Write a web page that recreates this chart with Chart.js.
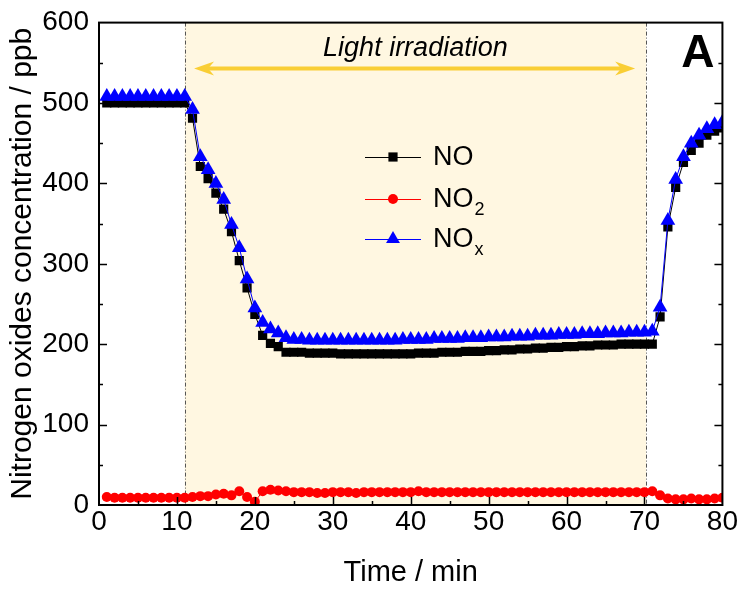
<!DOCTYPE html>
<html>
<head>
<meta charset="utf-8">
<title>NOx removal</title>
<script src="https://cdn.jsdelivr.net/npm/chart.js@4.4.1/dist/chart.umd.min.js"></script>
<style>
  html, body { margin: 0; padding: 0; background: #fff; }
  #wrap { width: 743px; height: 590px; }
</style>
</head>
<body>
<div id="wrap"><canvas id="chart" width="743" height="590"></canvas></div>
<script>
// time axis, one reading per minute
const times = [
  1, 2, 3, 4, 5, 6, 7, 8, 9, 10, 11, 12, 13, 14, 15, 16, 17, 18, 19, 20,
  21, 22, 23, 24, 25, 26, 27, 28, 29, 30, 31, 32, 33, 34, 35, 36, 37, 38, 39, 40,
  41, 42, 43, 44, 45, 46, 47, 48, 49, 50, 51, 52, 53, 54, 55, 56, 57, 58, 59, 60,
  61, 62, 63, 64, 65, 66, 67, 68, 69, 70, 71, 72, 73, 74, 75, 76, 77, 78, 79, 80
];

const noValues = [
  500, 500, 500, 500, 500, 500, 500, 500, 500, 500, 500, 481, 421, 406, 388, 368, 340, 304, 270, 237,
  211, 201, 197, 190, 190, 190, 189, 189, 189, 189, 188, 188, 188, 188, 188, 188, 188, 188, 188, 188,
  189, 189, 189, 190, 190, 190, 191, 191, 191, 192, 192, 193, 193, 194, 194, 195, 195, 196, 196, 197,
  197, 198, 198, 199, 199, 199, 200, 200, 200, 200, 200, 234, 346, 395, 426, 441, 450, 460, 465, 469
];

const no2Values = [
  10, 9, 9, 9, 9, 9, 9, 9, 9, 9, 9, 10, 11, 11, 13, 14, 12, 17, 10, 4,
  17, 19, 18, 17, 16, 16, 16, 15, 15, 16, 16, 16, 15, 16, 16, 16, 16, 16, 16, 16,
  17, 16, 16, 16, 16, 16, 16, 16, 16, 16, 16, 16, 16, 16, 16, 16, 16, 16, 16, 16,
  16, 16, 16, 16, 16, 16, 16, 16, 16, 16, 17, 12, 8, 7, 7, 8, 7, 7, 8, 9
];

const noxValues = [
  508, 508, 508, 508, 508, 508, 508, 508, 508, 508, 508, 492, 433, 417, 400, 380, 349, 320, 281, 245,
  227, 219, 214, 208, 206, 206, 205, 205, 205, 205, 205, 205, 205, 205, 205, 205, 205, 205, 206, 206,
  206, 206, 207, 207, 207, 207, 208, 208, 208, 209, 209, 209, 210, 210, 210, 211, 211, 211, 212, 212,
  212, 213, 213, 213, 214, 214, 214, 215, 215, 215, 216, 246, 354, 405, 433, 450, 460, 468, 473, 476
];

// light on / off (min)
const lightStart = 11;
const lightEnd = 70.2;

const FONT = '"Liberation Sans", Arial, sans-serif';

function pts(ys) {
  return times.map((t, i) => ({ x: t, y: ys[i] }));
}

// little marker drawer used for the hand-made legend
function marker(ctx, style, x, y, r, color) {
  ctx.save();
  ctx.fillStyle = color;
  ctx.beginPath();
  if (style === 'rect') {
    const s = r * Math.SQRT1_2;
    ctx.rect(x - s, y - s, 2 * s, 2 * s);
  } else if (style === 'triangle') {
    ctx.moveTo(x, y - r);
    ctx.lineTo(x + r * 0.866, y + r * 0.5);
    ctx.lineTo(x - r * 0.866, y + r * 0.5);
    ctx.closePath();
  } else {
    ctx.arc(x, y, r, 0, Math.PI * 2);
  }
  ctx.fill();
  ctx.restore();
}

const decor = {
  id: 'decor',
  beforeDatasetsDraw(chart) {
    const { ctx, chartArea: a, scales: { x, y } } = chart;
    const x0 = x.getPixelForValue(lightStart);
    const x1 = x.getPixelForValue(lightEnd);
    ctx.save();
    ctx.fillStyle = '#FFF7E1';
    ctx.fillRect(x0, a.top, x1 - x0, a.bottom - a.top);

    // dash-dot boundaries
    ctx.strokeStyle = '#555';
    ctx.lineWidth = 1;
    ctx.setLineDash([4, 2, 1, 2]);
    [x0, x1].forEach(px => {
      ctx.beginPath();
      ctx.moveTo(Math.round(px) + 0.5, a.top);
      ctx.lineTo(Math.round(px) + 0.5, a.bottom);
      ctx.stroke();
    });
    ctx.setLineDash([]);

    // double arrow
    const ay = y.getPixelForValue(543);
    const ax0 = x.getPixelForValue(12.2);
    const ax1 = x.getPixelForValue(68.8);
    ctx.strokeStyle = '#F9CE35';
    ctx.fillStyle = '#F9CE35';
    ctx.lineWidth = 4;
    ctx.beginPath();
    ctx.moveTo(ax0 + 10, ay);
    ctx.lineTo(ax1 - 10, ay);
    ctx.stroke();
    [[ax0, 1], [ax1, -1]].forEach(([px, d]) => {
      ctx.beginPath();
      ctx.moveTo(px, ay);
      ctx.lineTo(px + d * 20, ay - 7);
      ctx.lineTo(px + d * 14, ay);
      ctx.lineTo(px + d * 20, ay + 7);
      ctx.closePath();
      ctx.fill();
    });

    ctx.fillStyle = '#000';
    ctx.font = 'italic 27px ' + FONT;
    ctx.textAlign = 'center';
    ctx.textBaseline = 'alphabetic';
    ctx.fillText('Light irradiation', x.getPixelForValue(40.6), ay - 12);
    ctx.restore();
  },
  afterDatasetsDraw(chart) {
    const { ctx, chartArea: a, scales: { x, y } } = chart;
    ctx.save();
    ctx.strokeStyle = '#000';
    ctx.lineWidth = 2;
    ctx.strokeRect(a.left, a.top, a.right - a.left, a.bottom - a.top);

    // inward ticks
    ctx.lineWidth = 1.5;
    ctx.beginPath();
    for (let v = 5; v < 80; v += 5) {
      const px = Math.round(x.getPixelForValue(v)) + 0.5;
      const len = v % 10 === 0 ? 8 : 4;
      ctx.moveTo(px, a.bottom);
      ctx.lineTo(px, a.bottom - len);
    }
    for (let v = 50; v < 600; v += 50) {
      const py = Math.round(y.getPixelForValue(v)) + 0.5;
      const len = v % 100 === 0 ? 8 : 4;
      ctx.moveTo(a.left, py);
      ctx.lineTo(a.left + len, py);
      ctx.moveTo(a.right, py);
      ctx.lineTo(a.right - len, py);
    }
    ctx.stroke();

    // panel letter
    ctx.fillStyle = '#000';
    ctx.font = 'bold 46px ' + FONT;
    ctx.textAlign = 'right';
    ctx.textBaseline = 'alphabetic';
    ctx.fillText('A', a.right - 8, a.top + 44);

    // legend
    const rows = [
      { name: 'NO', sub: '', color: '#000', style: 'rect', r: 6.5, y: 157 },
      { name: 'NO', sub: '2', color: '#FF0000', style: 'circle', r: 5, y: 199 },
      { name: 'NO', sub: 'x', color: '#0000FF', style: 'triangle', r: 8, y: 239 }
    ];
    rows.forEach(row => {
      ctx.strokeStyle = row.color;
      ctx.lineWidth = 1;
      ctx.beginPath();
      ctx.moveTo(365, row.y + 0.5);
      ctx.lineTo(421, row.y + 0.5);
      ctx.stroke();
      marker(ctx, row.style, 393, row.y, row.r, row.color);
      ctx.fillStyle = '#000';
      ctx.textAlign = 'left';
      ctx.textBaseline = 'middle';
      ctx.font = '27px ' + FONT;
      ctx.fillText(row.name, 433, row.y + 1);
      if (row.sub) {
        const w = ctx.measureText(row.name).width;
        ctx.font = '18px ' + FONT;
        ctx.fillText(row.sub, 433 + w + 1, row.y + 11);
      }
    });
    ctx.restore();
  }
};

new Chart(document.getElementById('chart'), {
  type: 'line',
  data: {
    datasets: [
      {
        label: 'NOx',
        data: pts(noxValues),
        borderColor: '#0000FF',
        backgroundColor: '#0000FF',
        borderWidth: 1,
        pointStyle: 'triangle',
        pointRadius: 8.5,
        pointBorderWidth: 0,
        order: 1
      },
      {
        label: 'NO',
        data: pts(noValues),
        borderColor: '#000',
        backgroundColor: '#000',
        borderWidth: 1,
        pointStyle: 'rect',
        pointRadius: 6.5,
        pointBorderWidth: 0,
        order: 2
      },
      {
        label: 'NO2',
        data: pts(no2Values),
        borderColor: '#FF0000',
        backgroundColor: '#FF0000',
        borderWidth: 1,
        pointStyle: 'circle',
        pointRadius: 5,
        pointBorderWidth: 0,
        order: 3
      }
    ]
  },
  options: {
    responsive: false,
    animation: false,
    events: [],
    layout: { padding: { top: 19, right: 17, left: 0, bottom: 0 } },
    plugins: {
      legend: { display: false },
      tooltip: { enabled: false }
    },
    scales: {
      x: {
        type: 'linear',
        min: 0,
        max: 80,
        afterFit: s => { s.height = 85; },
        grid: { display: false, drawTicks: false },
        border: { display: false },
        ticks: {
          stepSize: 10,
          padding: 5,
          color: '#000',
          font: { family: FONT, size: 28, lineHeight: 0.9 }
        },
        title: {
          display: true,
          text: 'Time / min',
          color: '#000',
          padding: { top: 14, bottom: 0 },
          font: { family: FONT, size: 29 }
        }
      },
      y: {
        min: 0,
        max: 600,
        afterFit: s => { s.width = 99; },
        grid: { display: false, drawTicks: false },
        border: { display: false },
        ticks: {
          stepSize: 100,
          padding: 10,
          color: '#000',
          font: { family: FONT, size: 28, lineHeight: 0.9 }
        },
        title: {
          display: true,
          text: 'Nitrogen oxides concentration / ppb',
          color: '#000',
          padding: { top: 5, bottom: 4 },
          font: { family: FONT, size: 30 }
        }
      }
    }
  },
  plugins: [decor]
});
</script>
</body>
</html>
